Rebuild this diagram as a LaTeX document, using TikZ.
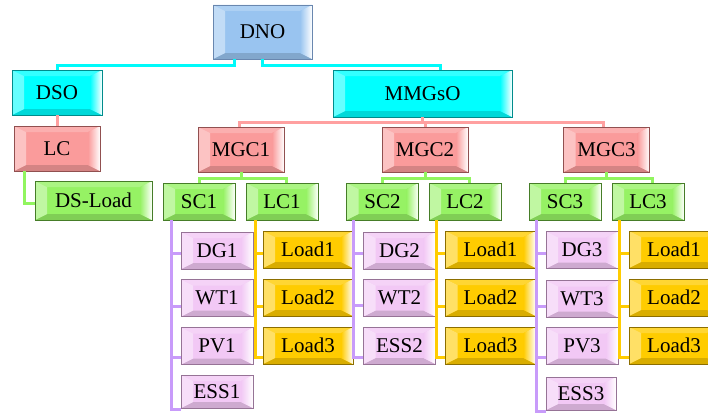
\documentclass[tikz,border=0pt]{standalone}
\usepackage{fontspec}
\setmainfont{Liberation Serif}
\definecolor{cDNO}{RGB}{153,196,240}
\definecolor{dDNO}{RGB}{105,135,175}
\definecolor{cCyan}{RGB}{0,255,255}
\definecolor{dCyan}{RGB}{0,140,140}
\definecolor{cSal}{RGB}{250,155,155}
\definecolor{dSal}{RGB}{145,80,80}
\definecolor{cGrn}{RGB}{150,242,100}
\definecolor{dGrn}{RGB}{70,125,40}
\definecolor{cPur}{RGB}{242,200,245}
\definecolor{dPur}{RGB}{150,115,150}
\definecolor{cGold}{RGB}{255,204,0}
\definecolor{dGold}{RGB}{140,110,0}
\definecolor{lCyan}{RGB}{0,250,250}
\definecolor{lPink}{RGB}{255,160,160}
\definecolor{lGrn}{RGB}{145,245,95}
\definecolor{lPur}{RGB}{200,155,250}
\definecolor{lGold}{RGB}{255,204,0}
\tikzset{
  bevbox/.style 2 args={rectangle, draw=#2, line width=0.9pt, fill=#1, inner sep=0pt,
    font=\fontsize{21}{24}\selectfont,
    path picture={
      \fill[#1!80!white] (path picture bounding box.north west) -- (path picture bounding box.north east)
        -- ([xshift=-12pt,yshift=-6pt]path picture bounding box.north east)
        -- ([xshift=12pt,yshift=-6pt]path picture bounding box.north west) -- cycle;
      \fill[#1!85!black] (path picture bounding box.south west) -- (path picture bounding box.south east)
        -- ([xshift=-12pt,yshift=6pt]path picture bounding box.south east)
        -- ([xshift=12pt,yshift=6pt]path picture bounding box.south west) -- cycle;
      \fill[#1!60!white] (path picture bounding box.north west) -- (path picture bounding box.south west)
        -- ([xshift=12pt,yshift=6pt]path picture bounding box.south west)
        -- ([xshift=12pt,yshift=-6pt]path picture bounding box.north west) -- cycle;
      \shade[left color=#1, right color=white] (path picture bounding box.north east) -- (path picture bounding box.south east)
        -- ([xshift=-12pt,yshift=6pt]path picture bounding box.south east)
        -- ([xshift=-12pt,yshift=-6pt]path picture bounding box.north east) -- cycle;
    }},
  blu/.style={bevbox={cDNO}{dDNO}},
  cya/.style={bevbox={cCyan}{dCyan}},
  sal/.style={bevbox={cSal}{dSal}, minimum width=86pt, minimum height=45pt},
  grn/.style={bevbox={cGrn}{dGrn}, minimum width=72pt, minimum height=37pt},
  pur/.style={bevbox={cPur}{dPur}, minimum width=72pt, minimum height=37pt},
  gld/.style={bevbox={cGold}{dGold}, minimum width=90pt, minimum height=37pt},
  conn/.style={draw=#1, line width=3pt}
}
\begin{document}
\begin{tikzpicture}[x=1pt,y=-1pt]
\useasboundingbox (0,0) rectangle (708,412);
% nodes
\node[blu, minimum width=99pt, minimum height=54pt] (DNO) at (262.5,32) {DNO};
\node[cya, minimum width=90pt, minimum height=45pt] (DSO) at (57,92.5) {DSO};
\node[cya, minimum width=179pt, minimum height=47pt] (MMGsO) at (422.5,93.5) {MMGsO};
\node[sal] (LC) at (57,148.5) {LC};
\node[sal] (MGC1) at (241,149.5) {MGC1};
\node[sal] (MGC2) at (425,149.5) {MGC2};
\node[sal] (MGC3) at (606.5,149.5) {MGC3};
\node[grn, minimum width=117pt, minimum height=39pt] (DSL) at (93.5,200.5) {DS-Load};
\node[grn] (SC1) at (199,201.5) {SC1};
\node[grn] (LC1) at (282,201.5) {LC1};
\node[grn] (SC2) at (382.5,201.5) {SC2};
\node[grn] (LC2) at (465,201.5) {LC2};
\node[grn] (SC3) at (565,201.5) {SC3};
\node[grn] (LC3) at (648,201.5) {LC3};
\node[pur] (DG1) at (217,250.5) {DG1};
\node[pur] (WT1) at (217,298) {WT1};
\node[pur] (PV1) at (217,346) {PV1};
\node[pur, minimum height=33pt] (ESS1) at (217,391.5) {ESS1};
\node[pur] (DG2) at (399.5,250.5) {DG2};
\node[pur] (WT2) at (399.5,298) {WT2};
\node[pur] (ESS2) at (399.5,345.5) {ESS2};
\node[pur] (DG3) at (582,250) {DG3};
\node[pur] (WT3) at (582,299) {WT3};
\node[pur] (PV3) at (582,346) {PV3};
\node[pur, minimum width=70pt, minimum height=33pt] (ESS3) at (581,393.5) {ESS3};
\node[gld] (LA1) at (308,249.5) {Load1};
\node[gld] (LA2) at (308,297.5) {Load2};
\node[gld] (LA3) at (308,345.5) {Load3};
\node[gld] (LB1) at (490.5,249.5) {Load1};
\node[gld] (LB2) at (490.5,297.5) {Load2};
\node[gld] (LB3) at (490.5,345.5) {Load3};
\node[gld] (LD1) at (674,249.5) {Load1};
\node[gld] (LD2) at (674,297.5) {Load2};
\node[gld] (LD3) at (674,345.5) {Load3};
% connectors
\draw[conn=lCyan] ([xshift=-28.5pt]DNO.south) -- ++(0,6) -| (DSO.north);
\draw[conn=lCyan] (DNO.south) -- ++(0,6) -| ([xshift=17.5pt]MMGsO.north);
\draw[conn=lPink] (DSO.south) -- (LC.north);
\draw[conn=lPink] (MMGsO.south) -- ++(0,5) -| ([xshift=-2pt]MGC1.north);
\draw[conn=lPink] (MMGsO.south) -- ++(0,5) -| (MGC2.north);
\draw[conn=lPink] (MMGsO.south) -- ++(0,5) -| ([xshift=-3pt]MGC3.north);
\draw[conn=lGrn] ([xshift=-33pt]LC.south) |- ([yshift=-2.5pt]DSL.west);
\foreach \m/\s/\l in {MGC1/SC1/LC1, MGC2/SC2/LC2, MGC3/SC3/LC3}{
  \draw[conn=lGrn] (\m.south) -- ++(0,6) -| (\s.north);
  \draw[conn=lGrn] (\m.south) -- ++(0,6) -| ([xshift=4pt]\l.north);
}
\draw[conn=lPur] ([xshift=9pt]SC1.south west) |- ([yshift=-2.5pt]DG1.west);
\draw[conn=lPur] ([xshift=9pt]SC1.south west) |- ([yshift=-8pt]WT1.west);
\draw[conn=lPur] ([xshift=9pt]SC1.south west) |- ([yshift=-11pt]PV1.west);
\draw[conn=lPur] ([xshift=9pt]SC1.south west) |- ([yshift=-1pt]ESS1.south west);
\draw[conn=lPur] ([xshift=7pt]SC2.south west) |- ([yshift=-2.5pt]DG2.west);
\draw[conn=lPur] ([xshift=7pt]SC2.south west) |- ([yshift=-7pt]WT2.west);
\draw[conn=lPur] ([xshift=7pt]SC2.south west) |- ([yshift=-11.5pt]ESS2.west);
\draw[conn=lPur] ([xshift=8pt]SC3.south west) |- ([yshift=-3pt]DG3.west);
\draw[conn=lPur] ([xshift=8pt]SC3.south west) |- ([yshift=-7pt]WT3.west);
\draw[conn=lPur] ([xshift=8pt]SC3.south west) |- ([yshift=-11pt]PV3.west);
\draw[conn=lPur] ([xshift=8pt]SC3.south west) |- ([yshift=-1pt]ESS3.south west);
\foreach \l/\a/\b/\c/\dx in {LC1/LA1/LA2/LA3/10pt, LC2/LB1/LB2/LB3/8pt, LC3/LD1/LD2/LD3/8pt}{
  \draw[conn=lGold] ([xshift=\dx]\l.south west) |- ([yshift=-3.5pt]\a.west);
  \draw[conn=lGold] ([xshift=\dx]\l.south west) |- ([yshift=-8.5pt]\b.west);
  \draw[conn=lGold] ([xshift=\dx]\l.south west) |- ([yshift=-11.5pt]\c.west);
}
\end{tikzpicture}
\end{document}
